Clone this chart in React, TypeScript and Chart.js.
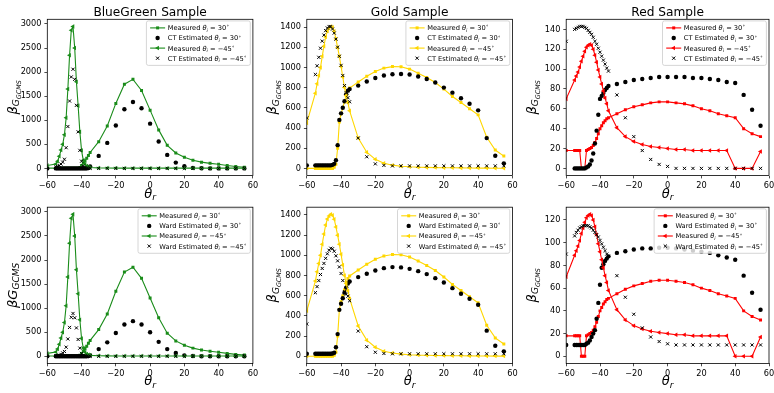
import React, { useEffect, useRef } from 'react';
import { Chart, registerables } from 'chart.js';

Chart.register(...registerables);

// ---------------- data ----------------
const thetaR = [-60, -55, -54, -53, -52, -51, -50, -49, -48, -47, -46, -45, -44, -43, -42, -41, -40, -39, -38, -37, -36, -35, -30, -25, -20, -15, -10, -5, 0, 5, 10, 15, 20, 25, 30, 35, 40, 45, 50, 55];

const xTicks = [-60, -40, -20, 0, 20, 40, 60];
const bgYTicks = [0, 500, 1000, 1500, 2000, 2500, 3000];
const goldYTicks = [0, 200, 400, 600, 800, 1000, 1200, 1400];
const redTopYTicks = [0, 20, 40, 60, 80, 100, 120, 140];
const redBottomYTicks = [0, 20, 40, 60, 80, 100, 120];

const titles = ['BlueGreen Sample', 'Gold Sample', 'Red Sample'];

// BlueGreen
const bgMeasured30 = [5, 5, 5, 5, 5, 5, 5, 5, 5, 5, 5, 5, 5, 5, 5, 20, 60, 110, 160, 210, 270, 330, 555, 880, 1350, 1750, 1850, 1620, 1210, 800, 480, 320, 230, 170, 130, 105, 85, 60, 40, 25];
const bgMeasured45 = [60, 90, 150, 250, 380, 500, 700, 1050, 1650, 2350, 2870, 2950, 2500, 1800, 1300, 760, 370, 170, 90, 50, 30, 20, 10, 8, 6, 5, 5, 5, 5, 5, 5, 5, 5, 5, 5, 5, 5, 5, 5, 5];
const bgCT30 = [0, 0, 0, 0, 0, 0, 0, 0, 0, 0, 0, 0, 0, 0, 0, 0, 0, 0, 0, 0, 10, 40, 260, 530, 890, 1230, 1380, 1250, 930, 560, 280, 120, 45, 10, 3, 0, 0, 0, 0, 0];
const bgCT45 = [0, 30, 40, 60, 90, 130, 190, 430, 870, 1400, 1900, 2060, 1850, 1310, 760, 375, 150, 50, 20, 8, 5, 3, 0, 0, 0, 0, 0, 0, 0, 0, 0, 0, 0, 0, 0, 0, 0, 0, 0, 0];
const bgWard30 = [0, 0, 0, 0, 0, 0, 0, 0, 0, 0, 0, 0, 0, 0, 0, 0, 0, 0, 0, 0, 5, 20, 150, 290, 485, 660, 730, 660, 500, 300, 150, 70, 20, 5, 0, 0, 0, 0, 0, 0];
const bgWard45 = [0, 10, 15, 25, 40, 70, 100, 190, 360, 600, 810, 890, 800, 590, 350, 170, 60, 20, 8, 4, 2, 1, 0, 0, 0, 0, 0, 0, 0, 0, 0, 0, 0, 0, 0, 0, 0, 0, 0, 0];

// Gold
const goldMeasured30 = [0, 0, 0, 0, 0, 0, 0, 0, 0, 0, 0, 0, 10, 40, 200, 460, 540, 600, 660, 730, 770, 795, 855, 912, 960, 993, 1008, 1006, 983, 943, 900, 850, 785, 712, 652, 590, 530, 308, 182, 122];
const goldMeasured45 = [450, 745, 837, 920, 1000, 1110, 1210, 1300, 1360, 1390, 1406, 1397, 1357, 1281, 1198, 1110, 1010, 905, 800, 720, 650, 570, 300, 160, 90, 50, 32, 22, 16, 12, 10, 8, 7, 6, 5, 4, 3, 3, 2, 2];
const goldCT30 = [30, 30, 30, 30, 30, 30, 30, 30, 30, 30, 30, 35, 45, 80, 230, 480, 545, 600, 665, 735, 770, 785, 820, 860, 895, 920, 932, 935, 930, 910, 885, 850, 800, 750, 695, 640, 575, 300, 125, 50];
const goldCT45 = [500, 930, 1016, 1100, 1190, 1260, 1320, 1364, 1390, 1405, 1405, 1380, 1340, 1280, 1200, 1110, 1020, 920, 820, 750, 700, 660, 300, 115, 45, 30, 25, 25, 25, 25, 25, 25, 25, 25, 25, 25, 25, 25, 25, 25];
const goldWard30 = [25, 25, 25, 25, 25, 25, 25, 25, 25, 25, 25, 28, 35, 90, 220, 460, 520, 575, 630, 680, 720, 740, 784, 817, 850, 873, 883, 880, 866, 843, 814, 774, 731, 675, 619, 570, 510, 254, 105, 49];
const goldWard45 = [320, 630, 690, 750, 810, 870, 920, 970, 1015, 1050, 1070, 1065, 1040, 995, 945, 885, 820, 750, 640, 615, 595, 550, 250, 95, 40, 28, 25, 25, 25, 25, 25, 25, 25, 25, 25, 25, 25, 25, 25, 25];

// Red
const redMeasured30 = [18, 18, 18, 18, 18, 0, 0, 0, 18, 19, 20, 21, 23, 26, 30, 35, 40, 43, 46, 48, 50, 51, 55, 59, 62, 64, 66, 67, 67, 66, 65, 63, 60, 58, 55, 53, 51, 40, 35, 32];
const redMeasured45 = [70, 89, 93, 97, 102, 108, 113, 118, 122, 124, 125, 124, 120, 114, 107, 99, 92, 85, 78, 71, 65, 58, 41, 32, 27, 24, 22, 21, 20, 19, 19, 18, 18, 18, 18, 18, 0, 0, 0, 17];
const redCT30 = [null, 0, 0, 0, 0, 0, 0, 0, 1, 2, 4, 8, 15, 25, 38, 54, 70, 73, 76, 79, 81, 83, 85, 87, 89, 90, 91, 92, 92, 92, 92, 91, 91, 90, 89, 87, 86, 74, 59, 43];
const redCT45 = [128, 140, 141, 142, 143, 143, 143, 142, 141, 139, 137, 135, 132, 128, 125, 121, 117, 113, 109, 105, 101, 98, 74, 51, 32, 18, 9, 4, 2, 0, 0, 0, 0, 0, 0, 0, 0, 0, 0, 0];
const redWard30 = [10, 10, 10, 10, 10, 10, 10, 10, 11, 12, 14, 17, 20, 23, 33, 47, 63, 78, 81, 84, 86, 88, 91, 92.5, 94, 95, 95, 95.5, 95.5, 95, 94, 93, 92, 91, 89, 87, 85, 71, 56, 41];
const redWard45 = [90, 106, 109, 111, 113, 114, 115, 115, 115, 115, 114, 113, 111, 109, 107, 105, 102, 99, 96, 93, 90, 88, 71, 52, 37, 25, 17, 13, 11, 10, 10, 10, 10, 10, 10, 10, 10, 10, 10, 10];

// ---------------- styles / layout ----------------
const W = 774;
const H = 393;
const GREEN = '#1a8c1a';
const GOLD = '#FFD700';
const RED = '#FF0000';
const FONT = '"DejaVu Sans"';
const COL_L = [47.3, 306.8, 566.2];
const COL_W = 205.6;
const ROW_T = [19.3, 207.2];
const ROW_H = 156.2;
const YW = 40;
const XH = 20;

type Num = number | null;
type PanelCfg = {
  row: number; col: number; color: string; est: string;
  m30: Num[]; e30: Num[]; m45: Num[]; e45: Num[];
  yTicks: number[]; flatLabel: boolean;
};

const panels: PanelCfg[] = [
  { row: 0, col: 0, color: GREEN, est: 'CT', m30: bgMeasured30, e30: bgCT30, m45: bgMeasured45, e45: bgCT45, yTicks: bgYTicks, flatLabel: false },
  { row: 0, col: 1, color: GOLD, est: 'CT', m30: goldMeasured30, e30: goldCT30, m45: goldMeasured45, e45: goldCT45, yTicks: goldYTicks, flatLabel: false },
  { row: 0, col: 2, color: RED, est: 'CT', m30: redMeasured30, e30: redCT30, m45: redMeasured45, e45: redCT45, yTicks: redTopYTicks, flatLabel: false },
  { row: 1, col: 0, color: GREEN, est: 'Ward', m30: bgMeasured30, e30: bgWard30, m45: bgMeasured45, e45: bgWard45, yTicks: bgYTicks, flatLabel: true },
  { row: 1, col: 1, color: GOLD, est: 'Ward', m30: goldMeasured30, e30: goldWard30, m45: goldMeasured45, e45: goldWard45, yTicks: goldYTicks, flatLabel: false },
  { row: 1, col: 2, color: RED, est: 'Ward', m30: redMeasured30, e30: redWard30, m45: redMeasured45, e45: redWard45, yTicks: redBottomYTicks, flatLabel: false },
];

type Seg = { t: string; s: number; dy: number; it?: boolean };

function segFont(seg: Seg, base: number) {
  return `${seg.it ? 'italic ' : ''}${base * seg.s}px ${FONT}`;
}
function richWidth(ctx: CanvasRenderingContext2D, segs: Seg[], base: number) {
  let w = 0;
  for (const s of segs) { ctx.font = segFont(s, base); w += ctx.measureText(s.t).width; }
  return w;
}
function drawRich(ctx: CanvasRenderingContext2D, segs: Seg[], x: number, y: number, base: number) {
  let cx = x;
  ctx.textAlign = 'left';
  ctx.textBaseline = 'alphabetic';
  for (const s of segs) {
    ctx.font = segFont(s, base);
    ctx.fillText(s.t, cx, y + s.dy * base);
    cx += ctx.measureText(s.t).width;
  }
}

function legendSegs(prefix: string, angle: string): Seg[] {
  return [
    { t: prefix + ' ', s: 1, dy: 0 },
    { t: 'θ', s: 1, dy: 0, it: true },
    { t: 'i', s: 0.7, dy: 0.22, it: true },
    { t: ' = ' + angle, s: 1, dy: 0 },
    { t: '∘', s: 0.7, dy: -0.42 },
  ];
}

function drawMarker(ctx: CanvasRenderingContext2D, kind: string, x: number, y: number, color: string) {
  ctx.save();
  ctx.fillStyle = color;
  ctx.strokeStyle = color;
  if (kind === 'rect') {
    const s = 1.5;
    ctx.fillRect(x - s, y - s, 2 * s, 2 * s);
  } else if (kind === 'circle') {
    ctx.beginPath(); ctx.arc(x, y, 2.2, 0, Math.PI * 2); ctx.fill();
  } else if (kind === 'tri') {
    const r = 2.6;
    ctx.beginPath();
    ctx.moveTo(x - r, y);
    ctx.lineTo(x + r * 0.5, y - r * 0.866);
    ctx.lineTo(x + r * 0.5, y + r * 0.866);
    ctx.closePath(); ctx.fill();
  } else {
    const r = 1.6;
    ctx.lineWidth = 1;
    ctx.beginPath();
    ctx.moveTo(x - r, y - r); ctx.lineTo(x + r, y + r);
    ctx.moveTo(x - r, y + r); ctx.lineTo(x + r, y - r);
    ctx.stroke();
  }
  ctx.restore();
}

const minus = (v: number) => String(v).replace('-', '\u2212');

function Panel({ p }: { p: PanelCfg }) {
  const ref = useRef<HTMLCanvasElement | null>(null);
  useEffect(() => {
    const canvas = ref.current;
    if (!canvas) return;
    const left = COL_L[p.col];
    const top = ROW_T[p.row];
    const right = left + COL_W;
    const bottom = top + ROW_H;
    const vals = [...p.m30, ...p.e30, ...p.m45, ...p.e45].filter((v) => v !== null) as number[];
    const lo = Math.min(...vals);
    const hi = Math.max(...vals);
    const mg = (hi - lo) * 0.05;
    const pts = (ys: Num[]) => thetaR.map((x, i) => ({ x, y: ys[i] }));

    const decor = {
      id: 'decor',
      afterDraw(chart: any) {
        const ctx: CanvasRenderingContext2D = chart.ctx;
        const a = chart.chartArea;
        ctx.save();
        // spines
        ctx.strokeStyle = '#000';
        ctx.lineWidth = 0.8;
        ctx.strokeRect(a.left, a.top, a.right - a.left, a.bottom - a.top);
        ctx.fillStyle = '#000';
        const cx = (a.left + a.right) / 2;
        const cy = (a.top + a.bottom) / 2;
        // title
        if (p.row === 0) {
          ctx.font = `12.2px ${FONT}`;
          ctx.textAlign = 'center';
          ctx.textBaseline = 'alphabetic';
          ctx.fillText(titles[p.col], cx, a.top - 3.4);
        }
        // x label
        const xl: Seg[] = [{ t: 'θ', s: 1, dy: 0, it: true }, { t: 'r', s: 0.7, dy: 0.2, it: true }];
        const xw = richWidth(ctx, xl, 13);
        drawRich(ctx, xl, cx - xw / 2, a.bottom + 22, 13);
        // y label
        const yl: Seg[] = p.flatLabel
          ? [{ t: 'β', s: 1, dy: 0, it: true }, { t: 'G', s: 1, dy: 0, it: true }, { t: 'GCMS', s: 0.7, dy: 0.2, it: true }]
          : [{ t: 'β', s: 1, dy: 0, it: true }, { t: 'G', s: 0.7, dy: 0.2, it: true }, { t: 'GCMS', s: 0.49, dy: 0.34, it: true }];
        const yw = richWidth(ctx, yl, 13);
        ctx.save();
        ctx.translate(a.left - 30.5, cy);
        ctx.rotate(-Math.PI / 2);
        drawRich(ctx, yl, -yw / 2, 0, 13);
        ctx.restore();
        // legend
        const fs = 6.7;
        const rows = [
          { segs: legendSegs('Measured', '30'), line: true, mk: 'rect', col: p.color },
          { segs: legendSegs(`${p.est} Estimated`, '30'), line: false, mk: 'circle', col: '#000' },
          { segs: legendSegs('Measured', '\u221245'), line: true, mk: 'tri', col: p.color },
          { segs: legendSegs(`${p.est} Estimated`, '\u221245'), line: false, mk: 'x', col: '#000' },
        ];
        const tw = Math.max(...rows.map((r) => richWidth(ctx, r.segs, fs)));
        const lw = 3.7 + 15 + 2.6 + tw + 3.5;
        const lh = 44.5;
        const lx = a.right - 2.6 - lw;
        const ly = a.top + 1.6;
        ctx.beginPath();
        (ctx as any).roundRect(lx, ly, lw, lh, 2);
        ctx.fillStyle = 'rgba(255,255,255,0.8)';
        ctx.fill();
        ctx.strokeStyle = '#cccccc';
        ctx.lineWidth = 0.8;
        ctx.stroke();
        rows.forEach((r, i) => {
          const ry = ly + 7 + i * 10.1;
          const x0 = lx + 3.7;
          if (r.line) {
            ctx.strokeStyle = r.col;
            ctx.lineWidth = 1.1;
            ctx.beginPath(); ctx.moveTo(x0, ry); ctx.lineTo(x0 + 15, ry); ctx.stroke();
          }
          drawMarker(ctx, r.mk, x0 + 7.5, ry, r.col);
          ctx.fillStyle = '#000';
          drawRich(ctx, r.segs, x0 + 15 + 2.6, ry + fs * 0.36, fs);
        });
        ctx.restore();
      },
    };

    const tickFont = { family: 'DejaVu Sans', size: 8.2 };
    const gridOpts = { display: true, drawOnChartArea: false, drawTicks: true, tickLength: 2.9, color: '#000', lineWidth: 0.7 };

    const chart = new Chart(canvas, {
      type: 'scatter',
      data: {
        datasets: [
          { data: pts(p.m30), showLine: true, borderColor: p.color, backgroundColor: p.color, borderWidth: 1.1, pointStyle: 'rect', pointRadius: 2.1, pointBorderWidth: 0, pointBackgroundColor: p.color, order: 4, clip: 0 },
          { data: pts(p.e30), showLine: false, pointStyle: 'circle', pointRadius: 2.2, pointBorderWidth: 0, pointBackgroundColor: '#000', backgroundColor: '#000', borderColor: '#000', order: 3, clip: 0 },
          { data: pts(p.m45), showLine: true, borderColor: p.color, backgroundColor: p.color, borderWidth: 1.1, pointStyle: 'triangle', pointRotation: -90, pointRadius: 2.6, pointBorderWidth: 0, pointBackgroundColor: p.color, order: 2, clip: 0 },
          { data: pts(p.e45), showLine: false, pointStyle: 'crossRot', pointRadius: 2.2, pointBorderWidth: 1, pointBorderColor: '#000', borderColor: '#000', order: 1, clip: 0 },
        ] as any,
      },
      options: {
        responsive: false,
        animation: false,
        devicePixelRatio: 1,
        events: [],
        layout: { padding: { left: left - YW, right: W - right, top: top, bottom: H - bottom - XH } },
        plugins: { legend: { display: false }, title: { display: false }, tooltip: { enabled: false } },
        scales: {
          x: {
            type: 'linear', min: -60, max: 60,
            afterBuildTicks: (ax: any) => { ax.ticks = xTicks.map((v) => ({ value: v })); },
            afterFit: (s: any) => { s.height = XH; s.paddingLeft = 0; s.paddingRight = 0; },
            grid: gridOpts, border: { display: false },
            ticks: { font: tickFont, color: '#000', padding: 2.9, maxRotation: 0, minRotation: 0, autoSkip: false, callback: (v: any) => minus(Number(v)) },
          },
          y: {
            type: 'linear', min: lo - mg, max: hi + mg,
            afterBuildTicks: (ax: any) => { ax.ticks = p.yTicks.map((v) => ({ value: v })); },
            afterFit: (s: any) => { s.width = YW; s.paddingTop = 0; s.paddingBottom = 0; },
            grid: gridOpts, border: { display: false },
            ticks: { font: tickFont, color: '#000', padding: 2.9, autoSkip: false, callback: (v: any) => minus(Number(v)) },
          },
        },
      } as any,
      plugins: [decor],
    });
    return () => chart.destroy();
  }, [p]);
  return <canvas ref={ref} width={W} height={H} style={{ position: 'absolute', left: 0, top: 0, width: W, height: H }} />;
}

export default function App() {
  return (
    <div style={{ position: 'absolute', left: 0, top: 0, width: W, height: H, overflow: 'hidden', background: '#fff' }}>
      {panels.map((p, i) => <Panel key={i} p={p} />)}
    </div>
  );
}
